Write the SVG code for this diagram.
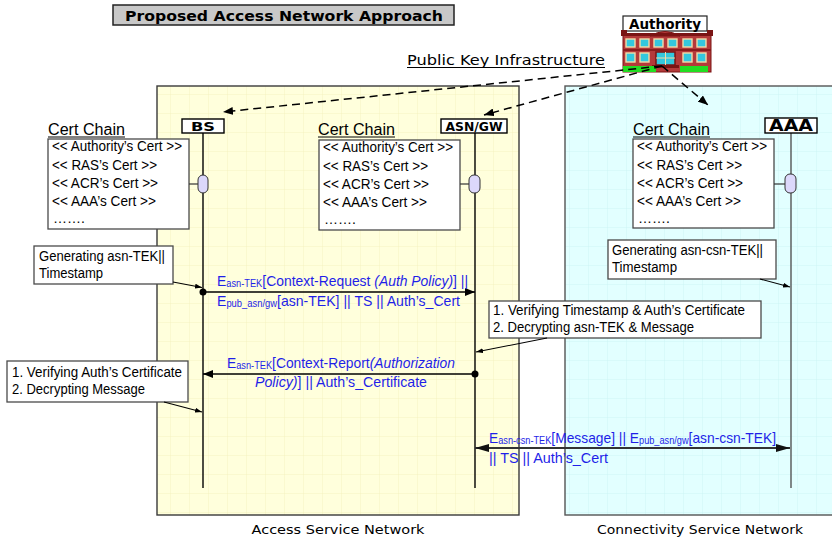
<svg xmlns="http://www.w3.org/2000/svg" width="832" height="538" viewBox="0 0 832 538">
  <defs>
    <style>
      .sans { font-family: "Liberation Sans", Arial, sans-serif; }
      .wide { font-family: "DejaVu Sans", Verdana, sans-serif; }
      .hdr { font-family: "DejaVu Sans", Verdana, sans-serif; font-weight: bold; }
      .box { fill: #ffffff; stroke: #4a4a4a; stroke-width: 1.3; }
      .txt { font-family: "Liberation Sans", Arial, sans-serif; font-size: 14px; fill: #000; }
      .msg { font-family: "Liberation Sans", Arial, sans-serif; font-size: 15px; fill: #1f1fe8; }
      .sub { font-size: 10px; }
      .life { stroke: #000; stroke-width: 1.4; }
      .pill { fill: #dcd8fb; stroke: #333; stroke-width: 1; }
      .dash { stroke: #000; stroke-width: 1.5; stroke-dasharray: 8 5; fill: none; }
      .call { stroke: #000; stroke-width: 1.1; fill: none; }
    </style>
    <pattern id="gridY" width="19" height="19" patternUnits="userSpaceOnUse">
      <rect width="19" height="19" fill="#ffffdc"/>
      <path d="M19 0V19H0" fill="none" stroke="#f1efbb" stroke-width="0.8"/>
    </pattern>
    <pattern id="gridC" width="19" height="19" patternUnits="userSpaceOnUse">
      <rect width="19" height="19" fill="#e2ffff"/>
      <path d="M19 0V19H0" fill="none" stroke="#c9f2f2" stroke-width="0.8"/>
    </pattern>
    <marker id="ah" viewBox="0 0 10 8" refX="10" refY="4" markerWidth="10" markerHeight="8" markerUnits="userSpaceOnUse" orient="auto">
      <path d="M0 0L10 4L0 8Z" fill="#000"/>
    </marker>
    <marker id="ahs" viewBox="0 0 7 5" refX="7" refY="2.5" markerWidth="7" markerHeight="5" markerUnits="userSpaceOnUse" orient="auto">
      <path d="M0 0L7 2.5L0 5Z" fill="#000"/>
    </marker>
    <marker id="ahg" viewBox="0 0 14 8" refX="14" refY="4" markerWidth="14" markerHeight="8" markerUnits="userSpaceOnUse" orient="auto-start-reverse">
      <path d="M0 0L14 4L0 8Z" fill="#111"/>
    </marker>
  </defs>

  <rect width="832" height="538" fill="#ffffff"/>

  <!-- network domains -->
  <g id="asn-region">
    <rect x="157" y="86" width="362" height="429" fill="url(#gridY)" stroke="#3a3a3a" stroke-width="1.4"/>
    <text class="wide" x="338" y="534" font-size="13" text-anchor="middle" textLength="173" lengthAdjust="spacingAndGlyphs">Access Service Network</text>
  </g>
  <g id="csn-region">
    <rect x="565" y="86" width="272" height="429" fill="url(#gridC)" stroke="#555" stroke-width="1.4"/>
    <text class="wide" x="700" y="534" font-size="13" text-anchor="middle" textLength="206" lengthAdjust="spacingAndGlyphs">Connectivity Service Network</text>
  </g>

  <!-- title -->
  <g id="title">
    <rect x="113" y="5" width="341" height="20" fill="#c8c8c8" stroke="#222" stroke-width="1.5"/>
    <text class="hdr" x="284" y="20.5" font-size="14" text-anchor="middle" textLength="318" lengthAdjust="spacingAndGlyphs">Proposed Access Network Approach</text>
  </g>

  <!-- PKI label -->
  <g id="pki-label">
    <text class="wide" x="407" y="65" font-size="14" textLength="198" lengthAdjust="spacingAndGlyphs">Public Key Infrastructure</text>
    <line x1="407" y1="67.5" x2="605" y2="67.5" stroke="#000" stroke-width="1"/>
  </g>

  <!-- Authority -->
  <g id="authority">
    <rect x="623" y="16" width="84" height="15" fill="#fff" stroke="#222" stroke-width="1.2"/>
    <text class="hdr" x="665" y="29" font-size="14" text-anchor="middle" textLength="72" lengthAdjust="spacingAndGlyphs">Authority</text>
    <!-- building -->
    <rect x="623" y="35" width="88" height="37" fill="#b43a3a" stroke="#7a1414" stroke-width="1"/>
    <path d="M650 36 Q665 27 680 36Z" fill="#b43a3a" stroke="#7a1414" stroke-width="1"/>
    <rect x="621" y="33" width="92" height="3" fill="#7a1414"/>
    <rect x="621" y="30" width="6" height="6" fill="#7a1414"/>
    <rect x="707" y="30" width="6" height="6" fill="#7a1414"/>
    <rect x="623" y="49" width="88" height="2" fill="#8a1c1c"/>
    <g fill="#34c8de" stroke="#f2dca8" stroke-width="1.4">
      <rect x="626" y="39" width="9" height="8"/>
      <rect x="640" y="39" width="9" height="8"/>
      <rect x="654" y="39" width="9" height="8"/>
      <rect x="668" y="39" width="9" height="8"/>
      <rect x="683" y="39" width="9" height="8"/>
      <rect x="697" y="39" width="9" height="8"/>
      <rect x="626" y="53" width="9" height="9"/>
      <rect x="640" y="53" width="9" height="9"/>
      <rect x="683" y="53" width="9" height="9"/>
      <rect x="697" y="53" width="9" height="9"/>
    </g>
    <rect x="656" y="52" width="19" height="13" fill="#34c8de" stroke="#7a1414" stroke-width="1.5"/>
    <line x1="665.5" y1="52" x2="665.5" y2="65" stroke="#f2dca8" stroke-width="1"/>
    <line x1="656" y1="58" x2="675" y2="58" stroke="#f2dca8" stroke-width="1"/>
    <rect x="652" y="65" width="27" height="3" fill="#7a1414"/>
    <rect x="623" y="66" width="33" height="6" fill="#22dd22"/>
    <rect x="680" y="66" width="28" height="6" fill="#22dd22"/>
  </g>

  <!-- BS -->
  <g id="bs">
    <line class="life" x1="203" y1="133" x2="203" y2="488"/>
    <rect x="182" y="119" width="42" height="14" fill="#fff" stroke="#000" stroke-width="1.4"/>
    <text class="hdr" x="203" y="131" font-size="12.5" text-anchor="middle" textLength="24" lengthAdjust="spacingAndGlyphs">BS</text>
    <rect class="pill" x="198" y="175" width="10" height="18" rx="5"/>
  </g>

  <!-- ASN/GW -->
  <g id="asn-gw">
    <line class="life" x1="475" y1="133" x2="475" y2="488"/>
    <rect x="441" y="119" width="66" height="14" fill="#fff" stroke="#000" stroke-width="1.4"/>
    <text class="hdr" x="474" y="131" font-size="12" text-anchor="middle" textLength="57" lengthAdjust="spacingAndGlyphs">ASN/GW</text>
    <rect class="pill" x="469" y="175" width="11" height="18" rx="5"/>
  </g>

  <!-- AAA -->
  <g id="aaa">
    <line x1="791" y1="133" x2="791" y2="488" stroke="#555" stroke-width="1.4"/>
    <rect x="765" y="118" width="52" height="15" fill="#fff" stroke="#000" stroke-width="1.4"/>
    <text class="hdr" x="791" y="131" font-size="15" text-anchor="middle" textLength="44" lengthAdjust="spacingAndGlyphs">AAA</text>
    <rect class="pill" x="785" y="174" width="11" height="19" rx="5"/>
  </g>

  <!-- certificate chains -->
  <g id="cert-bs">
    <text class="sans" x="48" y="135" font-size="16" textLength="77" lengthAdjust="spacingAndGlyphs">Cert Chain</text>
    <line x1="48" y1="137" x2="125" y2="137" stroke="#000" stroke-width="1"/>
    <rect class="box" x="48" y="139" width="141" height="90"/>
    <text class="txt" x="52" y="151" textLength="130" lengthAdjust="spacingAndGlyphs">&lt;&lt; Authority’s Cert &gt;&gt;</text>
    <text class="txt" x="52" y="170" textLength="105" lengthAdjust="spacingAndGlyphs">&lt;&lt; RAS’s Cert &gt;&gt;</text>
    <text class="txt" x="52" y="188" textLength="106" lengthAdjust="spacingAndGlyphs">&lt;&lt; ACR’s Cert &gt;&gt;</text>
    <text class="txt" x="52" y="206" textLength="104" lengthAdjust="spacingAndGlyphs">&lt;&lt; AAA’s Cert &gt;&gt;</text>
    <text class="txt" x="53" y="223">…….</text>
    <line x1="189" y1="184" x2="198" y2="184" stroke="#333" stroke-width="1.2"/>
  </g>
  <g id="cert-asn">
    <text class="sans" x="318" y="135" font-size="16" textLength="77" lengthAdjust="spacingAndGlyphs">Cert Chain</text>
    <line x1="318" y1="137" x2="395" y2="137" stroke="#000" stroke-width="1"/>
    <rect class="box" x="319" y="140" width="141" height="90"/>
    <text class="txt" x="323" y="152" textLength="130" lengthAdjust="spacingAndGlyphs">&lt;&lt; Authority’s Cert &gt;&gt;</text>
    <text class="txt" x="323" y="171" textLength="105" lengthAdjust="spacingAndGlyphs">&lt;&lt; RAS’s Cert &gt;&gt;</text>
    <text class="txt" x="323" y="189" textLength="106" lengthAdjust="spacingAndGlyphs">&lt;&lt; ACR’s Cert &gt;&gt;</text>
    <text class="txt" x="323" y="207" textLength="104" lengthAdjust="spacingAndGlyphs">&lt;&lt; AAA’s Cert &gt;&gt;</text>
    <text class="txt" x="324" y="224">…….</text>
    <line x1="460" y1="184" x2="469" y2="184" stroke="#333" stroke-width="1.2"/>
  </g>
  <g id="cert-aaa">
    <text class="sans" x="633" y="135" font-size="16" textLength="77" lengthAdjust="spacingAndGlyphs">Cert Chain</text>
    <line x1="633" y1="137" x2="710" y2="137" stroke="#000" stroke-width="1"/>
    <rect class="box" x="633" y="139" width="141" height="89"/>
    <text class="txt" x="637" y="151" textLength="130" lengthAdjust="spacingAndGlyphs">&lt;&lt; Authority’s Cert &gt;&gt;</text>
    <text class="txt" x="637" y="170" textLength="105" lengthAdjust="spacingAndGlyphs">&lt;&lt; RAS’s Cert &gt;&gt;</text>
    <text class="txt" x="637" y="188" textLength="106" lengthAdjust="spacingAndGlyphs">&lt;&lt; ACR’s Cert &gt;&gt;</text>
    <text class="txt" x="637" y="206" textLength="104" lengthAdjust="spacingAndGlyphs">&lt;&lt; AAA’s Cert &gt;&gt;</text>
    <text class="txt" x="638" y="223">…….</text>
    <line x1="774" y1="184" x2="785" y2="184" stroke="#333" stroke-width="1.2"/>
  </g>

  <!-- annotation notes -->
  <g id="note-gen-asn">
    <rect class="box" x="34" y="246" width="139" height="38"/>
    <text class="txt" x="39" y="261" textLength="126" lengthAdjust="spacingAndGlyphs">Generating asn-TEK||</text>
    <text class="txt" x="39" y="278" textLength="64" lengthAdjust="spacingAndGlyphs">Timestamp</text>
  </g>
  <g id="note-verify-gw">
    <rect class="box" x="489" y="301" width="272" height="37"/>
    <text class="txt" x="493" y="315" textLength="252" lengthAdjust="spacingAndGlyphs">1. Verifying Timestamp &amp; Auth’s Certificate</text>
    <text class="txt" x="493" y="332" textLength="201" lengthAdjust="spacingAndGlyphs">2. Decrypting asn-TEK &amp; Message</text>
  </g>
  <g id="note-verify-bs">
    <rect class="box" x="7" y="361" width="181" height="41"/>
    <text class="txt" x="12" y="377" textLength="170" lengthAdjust="spacingAndGlyphs">1. Verifying Auth’s Certificate</text>
    <text class="txt" x="12" y="394" textLength="133" lengthAdjust="spacingAndGlyphs">2. Decrypting Message</text>
  </g>
  <g id="note-gen-csn">
    <rect class="box" x="608" y="240" width="168" height="39"/>
    <text class="txt" x="612" y="255" textLength="151" lengthAdjust="spacingAndGlyphs">Generating asn-csn-TEK||</text>
    <text class="txt" x="612" y="272" textLength="65" lengthAdjust="spacingAndGlyphs">Timestamp</text>
  </g>

  <!-- connectors -->
  <g id="connectors">
    <!-- certificate distribution from the Authority -->
    <line class="dash" x1="662" y1="66" x2="223" y2="112" marker-end="url(#ah)"/>
    <line class="dash" x1="662" y1="66" x2="484" y2="115" marker-end="url(#ah)"/>
    <line class="dash" x1="662" y1="66" x2="708" y2="105" marker-end="url(#ah)"/>

    <!-- note callouts -->
    <line class="call" x1="173" y1="282" x2="202" y2="287.5" marker-end="url(#ahs)"/>
    <line class="call" x1="547" y1="338" x2="476" y2="352" marker-end="url(#ahs)"/>
    <line class="call" x1="164" y1="402" x2="202" y2="412" marker-end="url(#ahs)"/>
    <line class="call" x1="760" y1="279" x2="790" y2="287" marker-end="url(#ahs)"/>

    <!-- context request BS -> ASN/GW -->
    <circle cx="203" cy="292" r="3.5" fill="#000"/>
    <line x1="203" y1="292" x2="475" y2="292" stroke="#000" stroke-width="1.4" marker-end="url(#ah)"/>
    <text class="msg" x="217" y="286" textLength="251" lengthAdjust="spacingAndGlyphs">E<tspan class="sub" dy="1">asn-TEK</tspan><tspan dy="-1">[Context-Request </tspan><tspan font-style="italic">(Auth Policy)</tspan>] ||</text>
    <text class="msg" x="217" y="306" textLength="243" lengthAdjust="spacingAndGlyphs">E<tspan class="sub" dy="1">pub_asn/gw</tspan><tspan dy="-1">[asn-TEK] || TS || Auth’s_Cert</tspan></text>

    <!-- context report ASN/GW -> BS -->
    <circle cx="475" cy="374" r="3.5" fill="#000"/>
    <line x1="475" y1="374" x2="203" y2="374" stroke="#000" stroke-width="1.4" marker-end="url(#ah)"/>
    <text class="msg" x="227" y="368" textLength="228" lengthAdjust="spacingAndGlyphs">E<tspan class="sub" dy="1">asn-TEK</tspan><tspan dy="-1">[Context-Report</tspan><tspan font-style="italic">(Authorization</tspan></text>
    <text class="msg" x="255" y="387" textLength="172" lengthAdjust="spacingAndGlyphs"><tspan font-style="italic">Policy)</tspan>] || Auth’s_Certificate</text>

    <!-- ASN/GW <-> AAA exchange -->
    <line x1="475" y1="448" x2="790" y2="448" stroke="#333" stroke-width="2" marker-start="url(#ahg)" marker-end="url(#ahg)"/>
    <text class="msg" x="489" y="443" textLength="287" lengthAdjust="spacingAndGlyphs">E<tspan class="sub" dy="1">asn-csn-TEK</tspan><tspan dy="-1">[Message] || E</tspan><tspan class="sub" dy="1">pub_asn/gw</tspan><tspan dy="-1">[asn-csn-TEK]</tspan></text>
    <text class="msg" x="489" y="463" textLength="119" lengthAdjust="spacingAndGlyphs">|| TS || Auth’s_Cert</text>
  </g>
</svg>
